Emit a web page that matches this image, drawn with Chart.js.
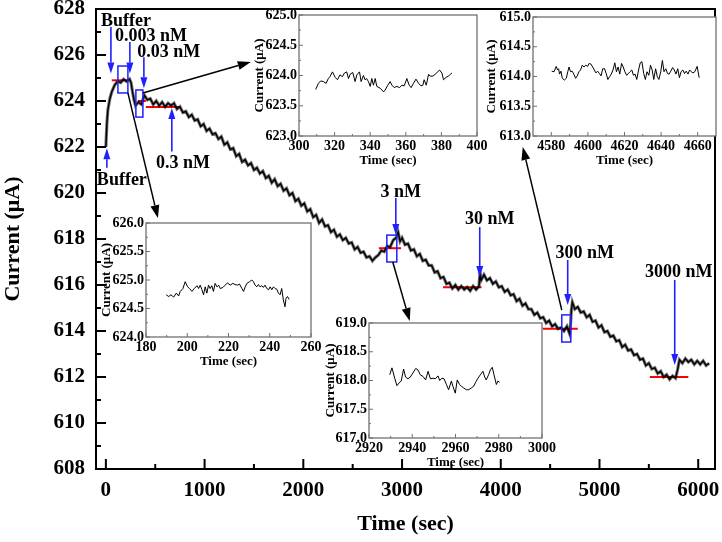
<!DOCTYPE html>
<html>
<head>
<meta charset="utf-8">
<script src="https://cdn.jsdelivr.net/npm/chart.js@4.4.1/dist/chart.umd.min.js"></script>
<style>
    body { margin: 0; background: #fff; }
    #wrap { position: relative; width: 722px; height: 542px; overflow: hidden; }
    canvas { position: absolute; }
</style>
</head>
<body>
<div id="wrap">
    <canvas id="mainChart" width="722" height="542" style="left:0;top:0"></canvas>
    <canvas id="insetA" width="245" height="165" style="left:252px;top:5px"></canvas>
    <canvas id="insetB" width="236" height="163" style="left:484px;top:7px"></canvas>
    <canvas id="insetC" width="232" height="158" style="left:99px;top:213px"></canvas>
    <canvas id="insetD" width="239" height="159" style="left:323px;top:313px"></canvas>
</div>
<script>
// ==================== Data ====================
const mainTime = [
    0, 10, 20, 40, 60, 90, 120, 150, 180, 210,
    240, 255, 270, 285, 300, 330, 360, 390, 420, 450,
    480, 510, 540, 570, 600, 630, 660, 690, 720, 750,
    780, 810, 840, 870, 900, 930, 960, 990, 1020, 1050,
    1080, 1110, 1140, 1170, 1200, 1230, 1260, 1290, 1320, 1350,
    1380, 1410, 1440, 1470, 1500, 1530, 1560, 1590, 1620, 1650,
    1680, 1710, 1740, 1770, 1800, 1830, 1860, 1890, 1920, 1950,
    1980, 2010, 2040, 2070, 2100, 2130, 2160, 2190, 2220, 2250,
    2280, 2310, 2340, 2370, 2400, 2430, 2460, 2490, 2520, 2550,
    2580, 2610, 2640, 2670, 2700, 2730, 2760, 2790, 2820, 2850,
    2880, 2910, 2940, 2960, 2980, 3000, 3030, 3060, 3090, 3120,
    3150, 3180, 3210, 3240, 3270, 3300, 3330, 3360, 3390, 3420,
    3450, 3480, 3510, 3540, 3570, 3600, 3630, 3660, 3690, 3720,
    3750, 3780, 3790, 3800, 3830, 3860, 3890, 3920, 3950, 3980,
    4010, 4040, 4070, 4100, 4130, 4160, 4190, 4220, 4250, 4280,
    4310, 4340, 4370, 4400, 4430, 4460, 4490, 4520, 4550, 4580,
    4610, 4640, 4670, 4700, 4715, 4725, 4750, 4780, 4810, 4840,
    4870, 4900, 4930, 4960, 4990, 5020, 5050, 5080, 5110, 5140,
    5170, 5200, 5230, 5260, 5290, 5320, 5350, 5380, 5410, 5440,
    5470, 5500, 5530, 5560, 5590, 5620, 5650, 5680, 5710, 5740,
    5770, 5790, 5810, 5840, 5870, 5900, 5930, 5960, 5990, 6020,
    6050, 6080, 6110
];
const mainCurrent = [
    622.0, 623.0, 623.6, 624.1, 624.4, 624.7, 624.85, 624.8, 624.95, 624.85,
    624.95, 624.8, 624.4, 624.05, 623.8, 623.95, 623.85, 624.25, 624.05, 624.1,
    623.85, 624.0, 623.8, 623.95, 623.75, 623.9, 623.8, 623.9, 623.65, 623.75,
    623.5, 623.55, 623.3, 623.4, 623.15, 623.2, 622.9, 623.0, 622.7, 622.8,
    622.55, 622.6, 622.35, 622.45, 622.1, 622.2, 621.9, 621.95, 621.6, 621.7,
    621.35, 621.45, 621.2, 621.3, 621.0, 621.1, 620.85, 620.95, 620.65, 620.75,
    620.45, 620.6, 620.3, 620.4, 620.1, 620.2, 619.9, 620.0, 619.65, 619.75,
    619.45, 619.55, 619.2, 619.3, 618.95, 619.05, 618.7, 618.85, 618.55, 618.6,
    618.3, 618.4, 618.1, 618.2, 617.95, 618.05, 617.8, 617.85, 617.55, 617.65,
    617.4, 617.45, 617.2, 617.25, 617.05, 617.2, 617.3, 617.5, 617.45, 617.7,
    617.65, 617.95, 618.05, 618.3, 617.9, 618.05, 617.75, 617.8, 617.5, 617.55,
    617.25, 617.35, 617.05, 617.1, 616.85, 616.85, 616.55, 616.6, 616.3, 616.35,
    616.05, 616.1, 615.85, 616.0, 615.8, 615.95, 615.8, 615.9, 615.75, 615.95,
    615.8, 615.95, 616.6, 616.2, 616.45, 616.2, 616.3, 616.05, 616.15, 615.9,
    615.95, 615.7, 615.8, 615.55, 615.6, 615.3, 615.4, 615.1, 615.2, 614.95,
    614.95, 614.7, 614.8, 614.55, 614.6, 614.35, 614.45, 614.2, 614.3, 614.1,
    614.15, 614.0, 614.2, 613.85, 614.9, 615.25, 614.95, 615.05, 614.8, 614.85,
    614.6, 614.7, 614.4, 614.45, 614.15, 614.25, 613.95, 614.0, 613.75, 613.8,
    613.55, 613.6, 613.3, 613.4, 613.15, 613.2, 612.95, 613.0, 612.75, 612.8,
    612.5, 612.6, 612.35, 612.4, 612.15, 612.25, 612.0, 612.1, 611.9, 612.05,
    611.95, 612.3, 612.75, 612.6, 612.8, 612.65, 612.75, 612.55, 612.7, 612.55,
    612.7, 612.5, 612.6
];
const mainTicksX = [0, 1000, 2000, 3000, 4000, 5000, 6000];
const mainTicksY = [608, 610, 612, 614, 616, 618, 620, 622, 624, 626, 628];

// red baseline levels
const refStart = [60, 324, 405, 2765, 3415, 4425, 5510];
const refEnd = [225, 405, 740, 2990, 3805, 4780, 5900];
const refLevel = [624.9, 624.0, 623.74, 617.6, 615.9, 614.1, 612.0];

// injection arrows (time, tail current, head current) and labels
const injTime = [51, 243, 385, 668, 10, 2937, 3787, 4678, 5762];
const injFrom = [627.22, 626.57, 625.9, 621.8, 621.1, 619.78, 618.52, 617.09, 616.22];
const injTo = [625.2, 625.2, 624.55, 623.7, 621.95, 618.17, 616.35, 615.13, 612.52];
const labelText = ['Buffer', '0.003 nM', '0.03 nM', '0.3 nM', 'Buffer', '3 nM', '30 nM', '300 nM', '3000 nM'];
const labelTime = [203, 456, 638, 780, 162, 2987, 3889, 4851, 5803];
const labelCurrent = [627.48, 626.83, 626.13, 621.3, 620.57, 620.04, 618.87, 617.39, 616.57];

// zoom boxes and pointer arrows to the insets
const boxT1 = [122, 304, 2846, 4618];
const boxT2 = [223, 375, 2947, 4709];
const boxI1 = [624.35, 623.3, 617.0, 613.52];
const boxI2 = [625.52, 624.48, 618.17, 614.7];
const pointerT1 = [223, 375, 2906, 4618];
const pointerI1 = [624.35, 624.35, 617.0, 614.91];
const pointerT2 = [527, 1468, 3078, 4223];
const pointerI2 = [618.91, 625.7, 614.43, 622.0];

// inset A: 300-400 s
const insetATime = [309.4, 310.9, 312.2, 313.7, 315.2, 316.5, 317.4, 318.8, 320.3, 321.6,
    323, 324.4, 325.5, 326.8, 327.8, 328.7, 330.2, 331.5, 332.5, 334,
    334.9, 336.2, 337.1, 338, 339, 340, 340.9, 341.8, 342.8, 343.7,
    345.6, 347.5, 348.4, 349.7, 351.2, 352.2, 353.5, 355, 356.5, 357.8,
    359.1, 360.6, 361.9, 363, 364.3, 365.7, 367.2, 368.5, 369.6, 370.3,
    371.5, 372.8, 373.7, 375.2, 376.5, 377.9, 379, 380.3, 381.2, 382.7,
    384, 385, 385.9];
const insetACurrent = [623.77, 623.87, 623.91, 623.90, 623.87, 623.95, 623.98, 624.06, 623.97, 623.93,
    624.01, 623.98, 624.04, 624.06, 623.95, 624.02, 624.05, 623.90, 624.01, 624.06,
    623.90, 624.00, 623.93, 623.95, 623.90, 623.82, 623.95, 623.84, 623.95, 623.82,
    623.79, 623.73, 623.76, 623.83, 623.90, 623.84, 623.80, 623.82, 623.80, 623.84,
    623.83, 623.95, 623.84, 623.80, 623.87, 623.94, 623.87, 623.83, 623.84, 623.93,
    623.84, 624.02, 623.99, 623.99, 624.02, 624.06, 624.09, 624.04, 623.93, 623.97,
    623.99, 624.02, 624.04];
const insetATicksX = [300, 320, 340, 360, 380, 400];
const insetATicksY = [623.0, 623.5, 624.0, 624.5, 625.0];

// inset B: 4570-4670 s
const insetBTime = [4580.2, 4581.5, 4582.7, 4583.4, 4584, 4584.5, 4585.3, 4586, 4587.1, 4588.2,
    4589, 4589.7, 4590.5, 4591.4, 4592.3, 4593.3, 4594.2, 4595.1, 4596, 4596.9,
    4597.9, 4598.8, 4599.8, 4600.7, 4601.6, 4602.6, 4603.5, 4604.4, 4605.3, 4606.3,
    4607.2, 4608.1, 4609.1, 4610, 4610.9, 4611.9, 4612.8, 4613.7, 4614.7, 4615.6,
    4616.5, 4617.4, 4618.4, 4619.3, 4620.2, 4621.2, 4622.1, 4623, 4624, 4624.9,
    4625.8, 4626.7, 4627.7, 4628.6, 4629.5, 4630.5, 4631.4, 4632.3, 4633.3, 4634.2,
    4635.1, 4636, 4637, 4637.9, 4638.8, 4639.8, 4640.7, 4641.6, 4642.6, 4643.5,
    4644.4, 4645.3, 4646.3, 4647.2, 4648.1, 4649.1, 4650, 4650.9, 4651.9, 4652.8,
    4653.7, 4654.7, 4655.6, 4656.5, 4657.4, 4658.4, 4659.7, 4660.8];
const insetBCurrent = [614.09, 614.08, 614.17, 614.11, 614.13, 614.04, 614.09, 613.97, 613.94, 613.97,
    614.08, 614.16, 614.08, 614.09, 614.04, 613.97, 614.01, 614.08, 614.11, 614.19,
    614.16, 614.19, 614.17, 614.22, 614.21, 614.16, 614.11, 614.06, 614.09, 614.05,
    614.01, 614.13, 614.13, 614.05, 613.95, 614.00, 614.04, 614.11, 614.23, 614.08,
    614.16, 614.04, 614.22, 614.16, 614.08, 614.02, 614.05, 614.08, 614.11, 614.02,
    614.04, 613.95, 614.11, 614.23, 614.25, 614.05, 613.95, 614.08, 614.02, 614.19,
    614.11, 613.95, 614.13, 614.00, 613.95, 614.08, 614.27, 614.08, 614.13, 614.05,
    614.04, 614.09, 614.15, 614.11, 614.04, 614.13, 613.98, 614.08, 614.11, 614.05,
    614.09, 614.04, 614.11, 614.08, 614.06, 614.08, 614.17, 613.98];
const insetBTicksX = [4580, 4600, 4620, 4640, 4660];
const insetBTicksY = [613.0, 613.5, 614.0, 614.5, 615.0];

// inset C: 180-260 s
const insetCTime = [189.8, 191, 192.1, 193.4, 194.7, 195.8, 196.6, 197.9, 199, 200.2,
    201.1, 202.3, 203.4, 204.7, 205.5, 206.3, 207.1, 207.9, 208.7, 209.5,
    210.3, 211.1, 211.9, 212.7, 213.5, 214.4, 215.2, 216, 217.3, 218.4,
    219.5, 220.8, 222.1, 223.2, 224.4, 225.3, 226.5, 227.3, 228.1, 228.9,
    230.2, 231.3, 232.1, 232.9, 233.7, 234.5, 235.3, 236.1, 236.9, 237.7,
    238.6, 239.4, 240.2, 241, 241.8, 242.6, 243.4, 244.2, 245, 245.8,
    246.6, 247.4, 247.9, 248.6, 249.4];
const insetCCurrent = [624.74, 624.71, 624.74, 624.70, 624.77, 624.72, 624.80, 624.85, 624.97, 624.88,
    624.85, 624.80, 624.85, 624.90, 624.85, 624.91, 624.83, 624.74, 624.88, 624.77,
    624.91, 624.85, 624.90, 624.80, 624.94, 624.88, 624.91, 624.85, 624.87, 624.91,
    624.95, 624.91, 624.94, 624.92, 624.91, 624.93, 624.85, 624.80, 624.88, 624.94,
    624.97, 625.00, 624.97, 624.91, 624.88, 624.92, 624.88, 624.90, 624.87, 624.91,
    624.85, 624.83, 624.88, 624.83, 624.88, 624.85, 624.84, 624.77, 624.74, 624.85,
    624.65, 624.53, 624.68, 624.71, 624.66];
const insetCTicksX = [180, 200, 220, 240, 260];
const insetCTicksY = [624.0, 624.5, 625.0, 625.5, 626.0];

// inset D: 2920-3000 s
const insetDTime = [2929.6, 2930.6, 2931.9, 2932.9, 2934.2, 2934.9, 2936, 2936.9, 2938, 2939.1,
    2940.3, 2941.6, 2942.7, 2943.7, 2945, 2946.2, 2947.3, 2948.4, 2949.6, 2950.7,
    2951.9, 2952.7, 2953.7, 2954.7, 2955.8, 2956.8, 2958.1, 2958.8, 2959.9, 2960.8,
    2961.9, 2962.7, 2963.8, 2965, 2966.1, 2967.3, 2968.4, 2969.3, 2970.4, 2971.5,
    2972.7, 2973.5, 2974.2, 2975.3, 2976.2, 2977, 2977.8, 2978.9, 2979.6, 2980.4];
const insetDCurrent = [618.10, 618.22, 618.04, 617.91, 617.97, 617.99, 618.20, 618.06, 618.03, 618.06,
    618.13, 618.21, 618.18, 618.10, 618.07, 618.01, 618.16, 618.03, 618.04, 618.03,
    618.08, 618.00, 618.04, 618.03, 617.93, 617.84, 617.99, 617.90, 617.78, 618.01,
    617.93, 617.90, 617.87, 617.84, 617.84, 617.87, 617.90, 617.97, 618.04, 618.10,
    618.16, 618.06, 618.01, 618.10, 618.19, 618.23, 618.10, 617.93, 617.99, 617.97];
const insetDTicksX = [2920, 2940, 2960, 2980, 3000];
const insetDTicksY = [617.0, 617.5, 618.0, 618.5, 619.0];

// ==================== Helpers ====================
const FONT = '"Liberation Serif", "Times New Roman", serif';
const BLUE = '#2020ff';

function toPoints(xs, ys) {
    return xs.map((x, i) => ({ x: x, y: ys[i] }));
}

function midpoints(ticks) {
    const out = [];
    for (let i = 0; i < ticks.length - 1; i++) out.push((ticks[i] + ticks[i + 1]) / 2);
    return out;
}

function drawArrow(ctx, x1, y1, x2, y2, color, lw, headLen, headW) {
    const ang = Math.atan2(y2 - y1, x2 - x1);
    const bx = x2 - headLen * Math.cos(ang);
    const by = y2 - headLen * Math.sin(ang);
    ctx.strokeStyle = color;
    ctx.fillStyle = color;
    ctx.lineWidth = lw;
    ctx.beginPath();
    ctx.moveTo(x1, y1);
    ctx.lineTo(bx, by);
    ctx.stroke();
    ctx.beginPath();
    ctx.moveTo(x2, y2);
    ctx.lineTo(bx + headW / 2 * Math.sin(ang), by - headW / 2 * Math.cos(ang));
    ctx.lineTo(bx - headW / 2 * Math.sin(ang), by + headW / 2 * Math.cos(ang));
    ctx.closePath();
    ctx.fill();
}

function drawInwardTicks(chart, majorLen, minorLen, color, lw) {
    const { ctx, chartArea: a, scales: { x, y } } = chart;
    ctx.strokeStyle = color;
    ctx.lineWidth = lw;
    const xt = x.ticks.map(t => t.value);
    const yt = y.ticks.map(t => t.value);
    ctx.beginPath();
    xt.forEach(v => { const p = x.getPixelForValue(v); ctx.moveTo(p, a.bottom); ctx.lineTo(p, a.bottom - majorLen); });
    midpoints(xt).forEach(v => { const p = x.getPixelForValue(v); ctx.moveTo(p, a.bottom); ctx.lineTo(p, a.bottom - minorLen); });
    yt.forEach(v => { const p = y.getPixelForValue(v); ctx.moveTo(a.left, p); ctx.lineTo(a.left + majorLen, p); });
    midpoints(yt).forEach(v => { const p = y.getPixelForValue(v); ctx.moveTo(a.left, p); ctx.lineTo(a.left + minorLen, p); });
    ctx.stroke();
}

// ==================== Main Chart ====================
const mainDecor = {
    id: 'mainDecor',
    afterDraw(chart) {
        const { ctx, chartArea: a, scales: { x, y } } = chart;
        ctx.save();
        // frame
        ctx.strokeStyle = '#000';
        ctx.lineWidth = 2;
        ctx.strokeRect(a.left, a.top, a.width, a.height);
        drawInwardTicks(chart, 10, 5, '#000', 2);

        // zoom boxes
        ctx.strokeStyle = BLUE;
        ctx.lineWidth = 1.5;
        boxT1.forEach((t, i) => {
            const x1 = x.getPixelForValue(t), x2 = x.getPixelForValue(boxT2[i]);
            const y1 = y.getPixelForValue(boxI2[i]), y2 = y.getPixelForValue(boxI1[i]);
            ctx.strokeRect(x1, y1, x2 - x1, y2 - y1);
        });

        // pointers to insets
        pointerT1.forEach((t, i) => {
            drawArrow(ctx, x.getPixelForValue(t), y.getPixelForValue(pointerI1[i]),
                x.getPixelForValue(pointerT2[i]), y.getPixelForValue(pointerI2[i]), '#000', 1.5, 13, 9);
        });

        // injection arrows
        injTime.forEach((t, i) => {
            const px = x.getPixelForValue(t);
            drawArrow(ctx, px, y.getPixelForValue(injFrom[i]), px, y.getPixelForValue(injTo[i]), BLUE, 1.6, 11, 7);
        });

        // labels
        ctx.fillStyle = '#000';
        ctx.font = 'bold 18px ' + FONT;
        ctx.textAlign = 'center';
        ctx.textBaseline = 'middle';
        labelText.forEach((s, i) => {
            ctx.fillText(s, x.getPixelForValue(labelTime[i]), y.getPixelForValue(labelCurrent[i]));
        });
        ctx.restore();
    }
};

const refDatasets = refLevel.map((lvl, i) => ({
    data: [{ x: refStart[i], y: lvl }, { x: refEnd[i], y: lvl }],
    borderColor: '#ff0000',
    borderWidth: 2,
    pointRadius: 0
}));

const mainPoints = toPoints(mainTime, mainCurrent);

new Chart(document.getElementById('mainChart'), {
    type: 'line',
    data: {
        datasets: [{
            // soft band under the trace
            data: mainPoints,
            borderColor: 'rgba(0,0,0,0.55)',
            borderWidth: 3.2,
            pointRadius: 0,
            tension: 0
        }, {
            data: mainPoints,
            borderColor: '#000',
            borderWidth: 1.4,
            pointRadius: 0,
            tension: 0
        }, ...refDatasets]
    },
    options: {
        responsive: false,
        animation: false,
        devicePixelRatio: 1,
        layout: { padding: { top: 9, right: 7, bottom: 4, left: 0 } },
        plugins: { legend: { display: false }, tooltip: { enabled: false } },
        scales: {
            x: {
                type: 'linear',
                min: -100,
                max: 6170,
                afterBuildTicks: s => { s.ticks = mainTicksX.map(v => ({ value: v })); },
                afterFit: s => { s.height = 69; s.paddingLeft = 0; s.paddingRight = 0; },
                grid: { display: false, drawTicks: false },
                border: { display: false },
                ticks: {
                    color: '#000', padding: 9, autoSkip: false, maxRotation: 0,
                    font: { family: FONT, size: 21, weight: 'bold' },
                    callback: v => String(v)
                },
                title: {
                    display: true, text: 'Time (sec)', color: '#000', padding: 0,
                    font: { family: FONT, size: 22, weight: 'bold' }
                }
            },
            y: {
                type: 'linear',
                min: 608,
                max: 628,
                afterBuildTicks: s => { s.ticks = mainTicksY.map(v => ({ value: v })); },
                afterFit: s => { s.width = 96; s.paddingTop = 0; s.paddingBottom = 0; },
                grid: { display: false, drawTicks: false },
                border: { display: false },
                ticks: {
                    color: '#000', padding: 11, autoSkip: false,
                    font: { family: FONT, size: 21, weight: 'bold' },
                    callback: v => String(v)
                },
                title: {
                    display: true, text: 'Current (\u03bcA)', color: '#000', padding: 0,
                    font: { family: FONT, size: 22, weight: 'bold' }
                }
            }
        }
    },
    plugins: [mainDecor]
});

// ==================== Insets ====================
const insetDecor = {
    id: 'insetDecor',
    beforeDraw(chart) {
        const { ctx, chartArea: a } = chart;
        ctx.save();
        ctx.fillStyle = '#fff';
        ctx.fillRect(a.left, a.top, a.width, a.height);
        ctx.restore();
    },
    afterDraw(chart) {
        const { ctx, chartArea: a } = chart;
        ctx.save();
        ctx.strokeStyle = '#707070';
        ctx.lineWidth = 1.3;
        ctx.strokeRect(a.left, a.top, a.width, a.height);
        drawInwardTicks(chart, 4, 2, '#707070', 1);
        ctx.restore();
    }
};

function makeInset(id, times, values, xMin, xMax, xTicks, yMin, yMax, yTicks, leftW, rightPad) {
    return new Chart(document.getElementById(id), {
        type: 'line',
        data: {
            datasets: [{
                data: toPoints(times, values),
                borderColor: '#000',
                borderWidth: 1,
                pointRadius: 0,
                tension: 0
            }]
        },
        options: {
            responsive: false,
            animation: false,
            devicePixelRatio: 1,
            layout: { padding: { top: 10, right: rightPad, bottom: 2, left: 0 } },
            plugins: { legend: { display: false }, tooltip: { enabled: false } },
            scales: {
                x: {
                    type: 'linear', min: xMin, max: xMax,
                    afterBuildTicks: s => { s.ticks = xTicks.map(v => ({ value: v })); },
                    afterFit: s => { s.height = 32; s.paddingLeft = 0; s.paddingRight = 0; },
                    grid: { display: false, drawTicks: false },
                    border: { display: false },
                    ticks: {
                        color: '#000', padding: 2, autoSkip: false, maxRotation: 0,
                        font: { family: FONT, size: 14, weight: 'bold' },
                        callback: v => String(v)
                    },
                    title: {
                        display: true, text: 'Time (sec)', color: '#000', padding: 0,
                        font: { family: FONT, size: 13, weight: 'bold' }
                    }
                },
                y: {
                    type: 'linear', min: yMin, max: yMax,
                    afterBuildTicks: s => { s.ticks = yTicks.map(v => ({ value: v })); },
                    afterFit: s => { s.width = leftW; s.paddingTop = 0; s.paddingBottom = 0; },
                    grid: { display: false, drawTicks: false },
                    border: { display: false },
                    ticks: {
                        color: '#000', padding: 2, autoSkip: false,
                        font: { family: FONT, size: 14, weight: 'bold' },
                        callback: v => Number(v).toFixed(1)
                    },
                    title: {
                        display: true, text: 'Current (\u03bcA)', color: '#000', padding: 0,
                        font: { family: FONT, size: 13, weight: 'bold' }
                    }
                }
            }
        },
        plugins: [insetDecor]
    });
}

makeInset('insetA', insetATime, insetACurrent, 300, 400, insetATicksX, 623, 625, insetATicksY, 47, 20);
makeInset('insetB', insetBTime, insetBCurrent, 4570, 4670, insetBTicksX, 613, 615, insetBTicksY, 49, 4);
makeInset('insetC', insetCTime, insetCCurrent, 180, 260, insetCTicksX, 624, 626, insetCTicksY, 47, 20);
makeInset('insetD', insetDTime, insetDCurrent, 2920, 3000, insetDTicksX, 617, 619, insetDTicksY, 46, 20);
</script>
</body>
</html>
